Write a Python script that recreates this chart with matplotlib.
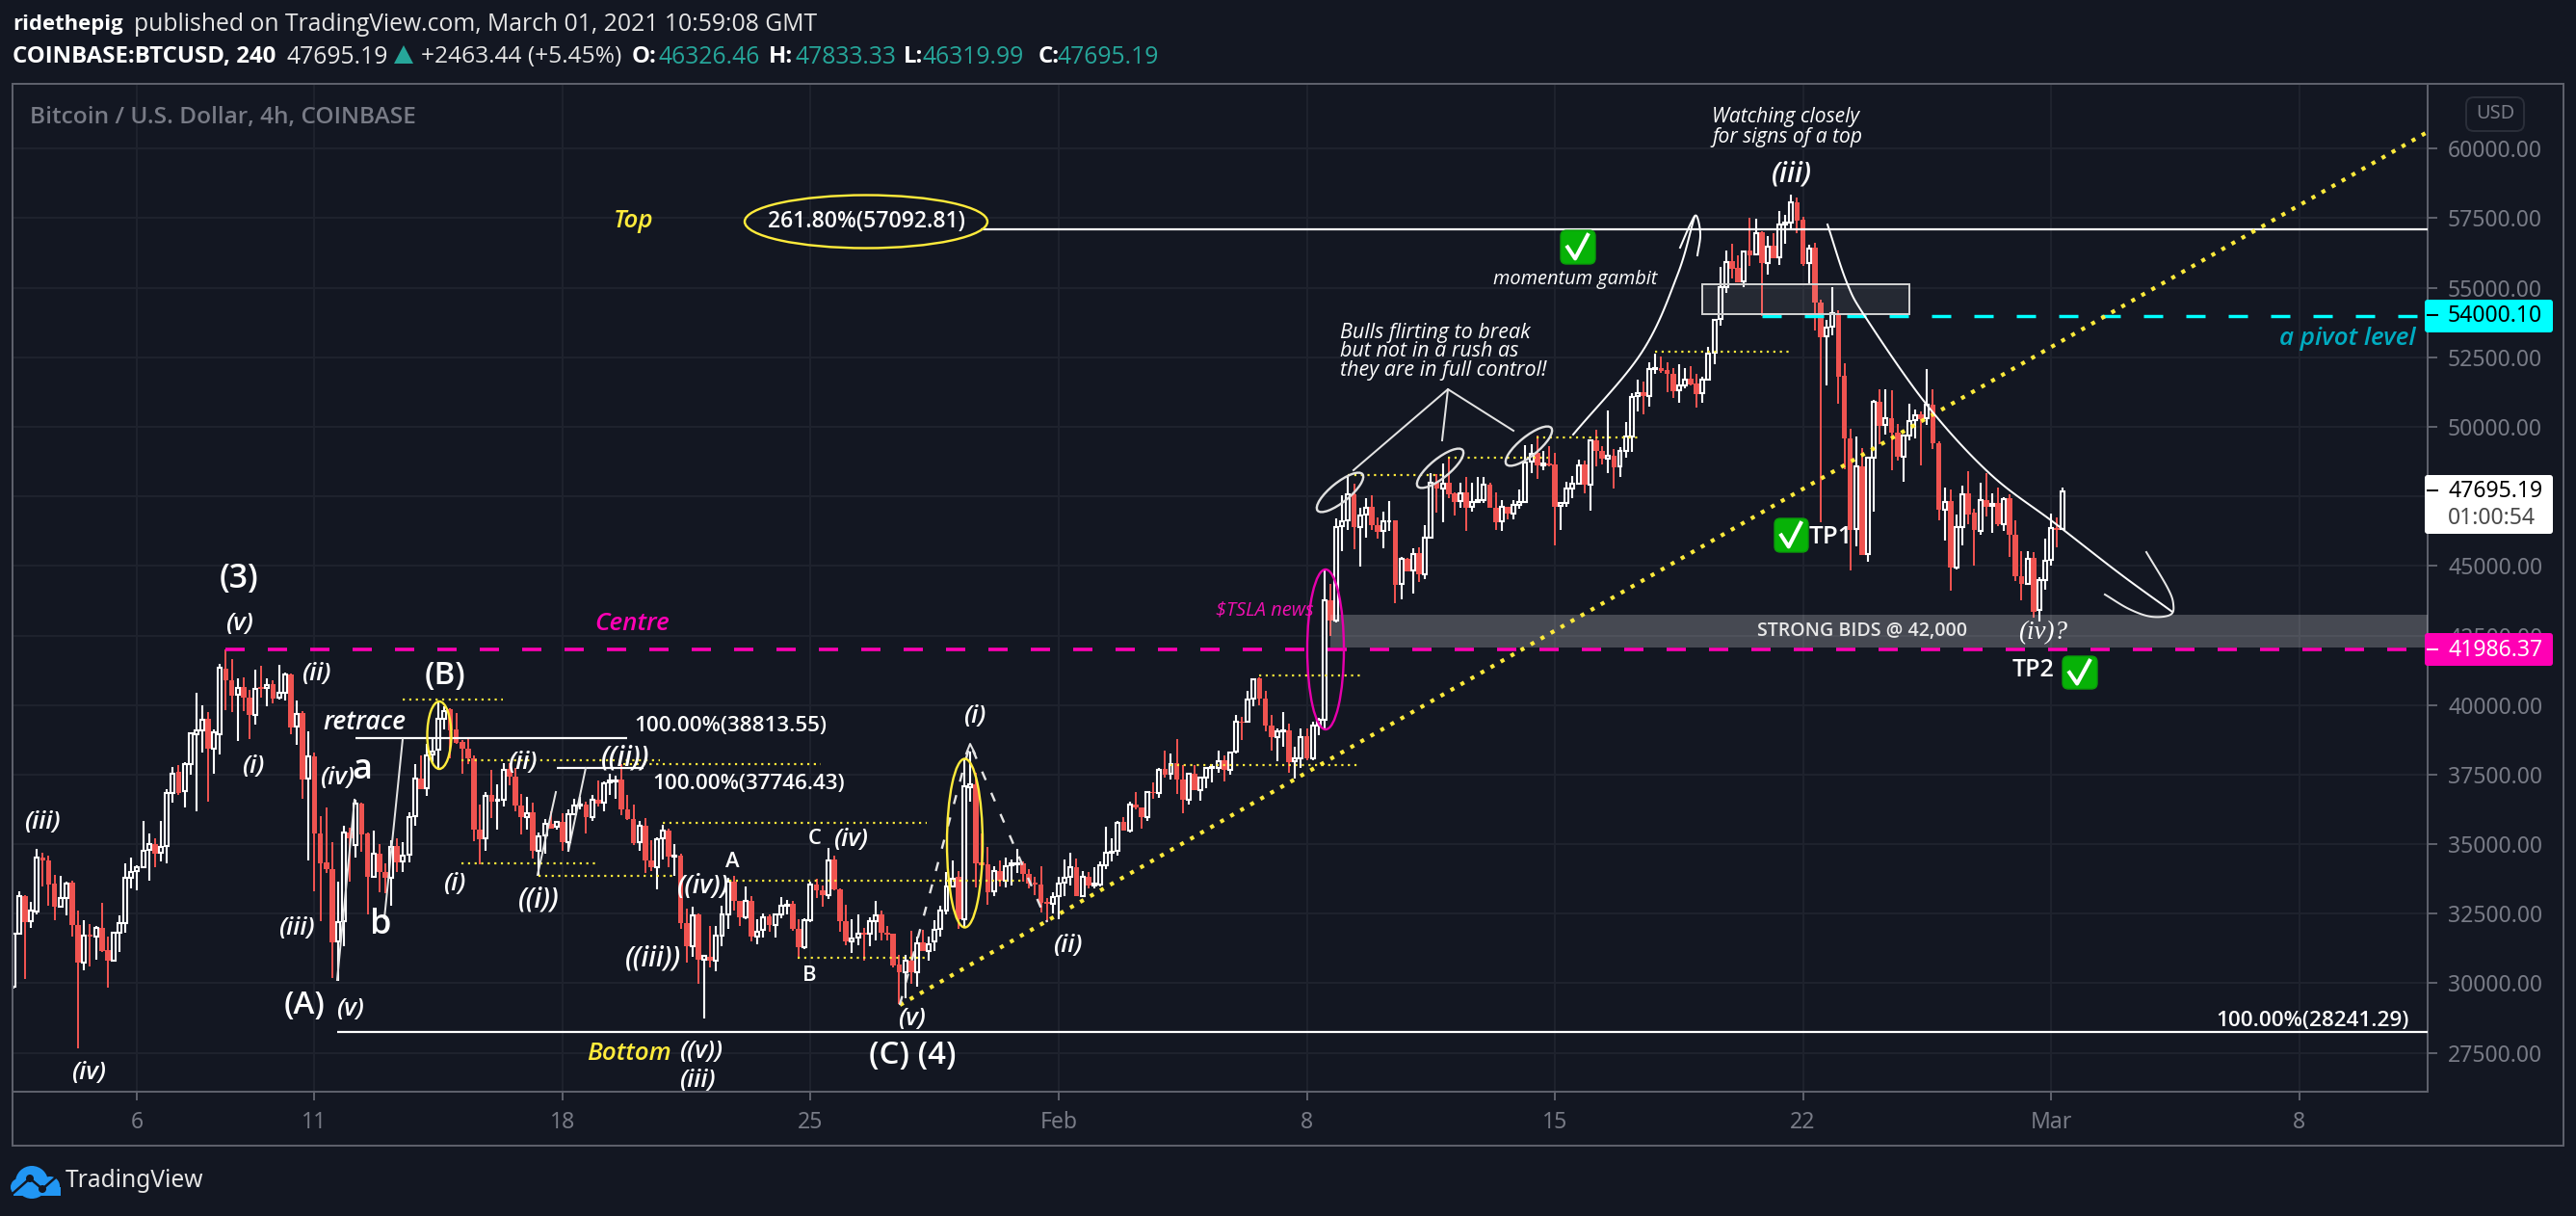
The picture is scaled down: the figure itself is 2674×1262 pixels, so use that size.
import numpy as np
import matplotlib
matplotlib.use("Agg")
import matplotlib.pyplot as plt
from matplotlib.patches import Ellipse, Rectangle, FancyBboxPatch, Circle
from matplotlib.lines import Line2D
from matplotlib.transforms import Affine2D

W, H = 2674, 1262
BG = "#131722"; GRID = "#1e222d"; FRAME = "#5d606b"; LBL = "#787b86"
UP = "#ffffff"; DOWN = "#ef5350"; YEL = "#ffeb3b"; MAG = "#ff00b4"; CYAN = "#00ffff"
px = 0.72

# ---- 4h BTCUSD candles, first bar on Jan 2 12:00, times as day-of-year offset
first_day = 1.5
bars_per_day = 6
opens = [
29876,31785,33115,32213,32560,34504,34423,33567,32745,33058,33601,32097,
30732,31750,31669,31993,31207,30801,31820,32167,33786,34041,34180,34781,
35001,34677,34943,36841,37593,36910,37859,38958,39086,39502,38414,38947,
41307,40902,40381,40636,40254,39652,40636,40613,40752,40254,40439,41099,
39224,39710,37350,38148,35395,34330,34099,31496,32213,35429,34967,36471,
35372,33810,34642,34006,33775,34943,34365,34620,36008,37373,37026,38206,
38380,39514,39849,39109,38669,38438,38067,35522,
35198,36760,36552,36587,37686,37431,36378,35985,36147,34770,35314,35742,
35638,35811,35083,36089,36378,36436,35973,36610,36506,37223,37258,37339,
36263,35916,35060,35661,34411,34180,35198,35488,34539,34597,32167,31322,
32479,30836,30952,30802,31704,32479,33636,32965,32364,32965,31669,31901,
32398,32098,32479,32769,32861,31959,31299,32248,33555,33347,33150,34446,
33382,32225,31496,31635,31820,31785,32225,32479,31808,31785,30663,30397,
30802,30397,31473,31172,31496,31959,32595,33486,33810,
32306,37050,37166,34331,34273,33290,34042,33672,34227,34262,34296,33926,
33602,33556,32908,32862,33116,33602,33834,34181,33139,33834,33521,33544,
34250,34690,34759,35800,35488,36437,36333,35986,36888,36853,37686,37513,
37895,37339,36587,37513,36958,37374,37721,37721,37999,37652,38323,39387,
39387,40232,40961,40220,39248,38855,39052,39075,37976,38091,38867,38091,
39272,39456,
43775,43046,46425,46633,47582,46402,46841,47119,46483,46263,46598,46633,
44342,45245,44840,45453,44701,46031,47998,47790,47987,47593,47327,47640,
47119,47292,47373,47929,47073,46598,47119,46899,47211,47304,48739,49063,
48600,48692,48635,47142,47269,47790,47964,48635,47906,49525,49121,48866,
48970,48565,49121,49641,51111,51238,51122,52094,52129,52048,51920,51319,
51492,51724,51550,51203,
51680,52663,53878,55012,55960,55706,55231,56342,56192,57002,55903,56504,
56088,57268,57360,58078,57441,55879,56435,54456,53241,53589,54098,51830,
49574,46311,48590,45432,48880,50904,50060,50326,49805,48937,49689,50233,
50442,50303,50812,49423,47028,47318,44934,46392,47595,46901,46253,47375,
47144,47271,46508,47433,46137,44633,44367,
45277,43426,44479,45219,46376,46326.46]
highs = [
31785,33289,33173,32907,34816,34700,34596,33879,33867,33636,33671,32595,
32248,32132,32051,32884,31669,31843,32421,34296,34504,34238,35834,35372,
35198,35834,36991,37778,37836,37952,39016,40428,39988,39733,39109,41469,
42001,41654,40960,40983,40543,41272,41411,40948,40890,41446,41157,41133,
40150,39768,39039,38287,36008,36332,35082,33636,35661,35603,36610,36505,
35429,35487,34990,34319,35140,35221,35059,36147,37859,38183,38611,38785,
40081,39942,39884,39710,38727,38785,38183,36413,
36876,37651,37165,37917,37917,37744,36818,36702,36494,35407,35892,36182,
35835,36101,36240,36645,36702,36529,36783,37304,37246,37535,37454,37859,
36783,36413,35835,35950,35140,35256,35684,35545,34990,34643,32676,32745,
32514,31033,32040,32040,32792,33787,33868,32965,33486,33116,32306,32514,
32479,32479,33081,33000,32942,32283,32329,33636,33752,33521,34874,34597,
33405,32827,32306,32479,31982,32364,32942,32595,32040,31785,31033,31033,
31878,31669,31935,31669,32271,32769,33984,34411,34018,
38034,38323,37548,35372,34886,34192,34424,34528,34447,34817,34389,34100,
33834,34215,33058,33278,33834,34447,34701,34470,34042,34007,34158,34389,
35639,35222,35835,35986,36530,36877,36333,36911,37224,37744,38346,38242,
38762,37825,37548,37825,37432,37767,37860,38346,38184,38323,39653,39572,
40498,40961,40984,40498,39653,39156,39734,39329,38496,39156,39167,39387,
39538,44840,
44342,46725,47535,48195,47964,47096,47443,47535,46749,46957,47327,46633,
45337,45303,45649,45684,46483,48345,48288,48681,48889,47651,47998,48195,
47987,48195,48195,47987,47640,47362,47119,47362,47732,49329,49375,49676,
49121,49317,49063,47292,48021,48230,48808,48773,49549,49896,49294,50601,
49202,49271,50162,51203,51701,51631,52325,52626,52534,52325,52129,52268,
52129,52187,51897,51816,
52871,53855,55741,56342,56574,56169,56342,57522,57476,57036,56863,56955,
57754,57615,58332,58251,57557,56550,56608,54572,53855,55012,54202,52270,
49921,49666,49227,48937,50962,51367,51367,51309,50118,49724,50846,50615,
50557,52061,51344,49493,47804,47757,46855,47873,48417,47063,47977,48324,
47607,47804,47456,47572,46623,45548,45524,
45486,44583,45983,46874,46758,47833.33]
lows = [
29818,31785,30142,31982,32479,33463,32768,32248,32710,32444,31669,27643,
30454,30593,30836,31114,29853,30801,31114,31808,33405,33324,34157,33671,
34157,34388,34296,36494,36760,36320,37512,36181,38299,36529,37535,38229,
39826,39745,38692,39768,38785,39305,40254,39965,40057,40196,40173,38958,
38553,36644,34411,33289,32225,33960,30200,30084,31345,33636,34504,34735,
32456,33786,33266,33231,32768,33983,33983,34330,35661,36991,36737,37859,
37686,39109,38067,38611,37535,37859,35105,34272,
34759,35927,35522,36355,37107,36182,35349,35511,34481,33868,34655,35545,
35522,34770,34735,36066,36240,35372,35835,36355,36182,36760,36621,36043,
35869,34967,34759,33960,34018,33370,34446,34157,33868,31959,30744,30940,
29969,28719,30570,30420,31322,31959,32595,32040,32283,31496,31403,31635,
31843,31635,32329,32479,31878,30917,31241,32190,33058,32745,33023,33324,
31866,31357,31091,31357,30802,31322,31554,31554,31554,30570,29240,29471,
29992,29876,31149,30825,31149,31669,32479,33463,31959,
32017,36530,33440,34250,32827,33116,33487,33440,33521,33961,33637,33406,
33174,32538,32191,32515,32306,33116,33521,33116,33093,33406,33406,33487,
34100,34389,34586,35488,35407,36240,35546,35835,36622,36668,37374,37339,
36819,36125,36414,36934,36564,37027,37224,37571,37258,37490,38242,38751,
39364,39943,40000,39052,38358,37976,38496,37571,37362,37744,37999,38010,
38901,39130,
42468,42954,45534,46286,45592,44990,46031,46286,45997,45650,46263,43660,
43798,44805,43995,44435,44527,45997,46922,46575,47420,46806,47096,46263,
46957,47269,47269,47073,46309,46263,46691,46668,47061,47292,48345,48114,
48426,48565,45742,46309,47119,47420,47906,47616,47003,48577,48635,48334,
47790,48195,48889,49097,50567,50451,50740,51920,51955,51261,51053,50856,
51377,51492,50683,50856,
51656,52258,53623,54815,55324,55185,55012,55787,56169,53970,55474,56053,
55822,56597,57094,56979,55787,55127,53450,46566,51483,53276,50846,48475,
44830,45698,45386,45143,46947,49379,49724,48440,48799,48012,49515,49574,
48613,50071,49192,46623,45929,44101,44865,45755,46508,45027,46103,46762,
46184,46427,46253,45328,44448,43754,44333,
43148,42998,44155,45023,45659,46319.99]
closes = [
31785,33115,32190,32595,34504,34411,33544,32745,33058,33578,32097,30732,
31727,31669,31993,31172,30801,31808,32167,33786,34006,34180,34758,35001,
34654,34886,36841,37547,36841,37859,38970,39074,39479,38414,39024,41330,
40902,40347,40613,40254,39652,40578,40590,40728,40231,40439,41099,39190,
39687,37338,38148,35372,34296,34099,31472,32190,35429,35198,36471,35348,
33810,34642,33983,33775,34909,34330,34596,35973,37362,36991,38183,38322,
39502,39768,39074,38646,38414,38067,35522,35175,
36737,36529,36587,37674,37431,36390,35973,36124,34759,35279,35742,35545,
35800,35060,36089,36378,36436,35973,36587,36471,37200,37281,37304,36263,
35916,35025,35661,34411,34180,35175,35488,34562,34585,32167,31322,32421,
30860,30998,30802,31704,32479,33659,32942,32364,32965,31669,31866,32364,
32098,32479,32769,32826,31936,31299,32248,33555,33347,33150,34423,33370,
32225,31496,31612,31785,31750,32225,32445,31808,31750,30651,30397,30802,
30397,31438,31149,31403,31935,32595,33463,33752,32283,
37085,37143,34308,34250,33267,34019,33672,34215,34296,34296,33926,33579,
33556,32885,32839,33093,33579,33787,34181,33139,33810,33498,33579,34239,
34678,34736,35777,35488,36437,36321,35974,36877,36842,37652,37490,37883,
37316,36587,37513,36934,37374,37721,37767,37976,37652,38300,39387,39364,
40197,40926,40220,39248,38843,39063,39075,37953,38091,38843,38068,39272,
39457,43776,
43046,46402,46598,47582,46402,46806,47096,46459,46216,46598,46621,44319,
45245,44805,45441,44701,46031,47998,47790,47940,47582,47304,47593,47096,
47292,47350,47906,47073,46575,47119,46887,47188,47292,48716,49028,48600,
48692,48600,47131,47269,47790,47964,48623,47906,49525,49121,48854,48970,
48542,49121,49641,51087,51203,51122,52094,52129,52013,51920,51296,51492,
51701,51539,51180,51701,
52640,53855,55012,55937,55683,55208,56319,56169,56979,55879,56481,56076,
57268,57349,58055,57418,55856,56423,54456,53218,53565,54098,51807,49574,
46276,48590,45386,48880,50904,50037,50326,49805,48914,49689,50210,50418,
50268,50812,49423,47005,47294,44934,46392,47572,46855,46276,47364,47109,
47237,46485,47410,46103,44622,44367,45258,
43345,44479,45196,46353,46307,47695.19]

# ---- price levels
top_level = 57092.81; pivot_level = 54000.10; centre_level = 41986.37
bottom_level = 28241.29; retrace_a = 38813.55; retrace_b = 37746.43
bids_top, bids_bottom = 43240, 42060
trend_x = [26.52, 69.62]; trend_y = [29217, 60600]
dot_start = [12.49,14.15,18.71,14.15,16.32,19.83,21.70,23.63,34.15,36.65,39.15,41.98,44.48,47.83]
dot_end   = [15.32,19.75,24.29,17.95,20.15,27.28,30.05,27.30,39.51,39.59,41.98,44.81,47.34,51.63]
dot_price = [40197,38015,37885,34309,33855,35770,33685,30920,37845,41070,48280,48880,49620,52700]
ytick_values = [27500 + 2500*i for i in range(14)]
xtick_days = [5,10,17,24,31,38,45,52,59,66]
xtick_labels = ["6","11","18","25","Feb","8","15","22","Mar","8"]

fig = plt.figure(figsize=(W/100, H/100), dpi=100, facecolor=BG)
ax = fig.add_axes([13/W, 1-1133/H, (2520-13)/W, (1133-87)/H], facecolor=BG)
ax.set_xlim(1.481, 69.625); ax.set_ylim(26099, 62331)
o, h, l, c = map(np.array, (opens, highs, lows, closes))
x = first_day + np.arange(len(o))/bars_per_day
up = c >= o
ax.set_axisbelow(True)
ax.grid(True, color=GRID, lw=2*px)
ax.vlines(x[~up], l[~up], h[~up], color=DOWN, lw=2*px, zorder=2)
ax.vlines(x[up], l[up], h[up], color=UP, lw=2.1*px, zorder=2)
ax.bar(x[~up], (o-c)[~up], bottom=c[~up], width=0.155, color=DOWN, lw=0, zorder=3)
ax.bar(x[up], (c-o)[up], bottom=o[up], width=0.108, facecolor=BG, edgecolor=UP, lw=2.1*px, zorder=3)

ax.yaxis.tick_right()
ax.set_yticks(ytick_values); ax.set_yticklabels([f"{v:.2f}" for v in ytick_values])
ax.set_xticks(xtick_days); ax.set_xticklabels(xtick_labels)
ax.tick_params(axis="y", colors=FRAME, length=10*px, width=2*px, pad=11*px, labelcolor=LBL, labelsize=23*px)
ax.tick_params(axis="x", colors=FRAME, length=9*px, width=2*px, pad=11*px, labelcolor=LBL, labelsize=23*px)
for s in ax.spines.values():
    s.set_color(FRAME); s.set_linewidth(2*px)
for t in ax.get_xticklabels() + ax.get_yticklabels():
    t.set_family("Noto Sans")

# levels, in price
ax.hlines(top_level, 28.8, 69.625, color="white", lw=2.2*px, zorder=5)
ax.hlines(bottom_level, 10.64, 69.625, color="white", lw=2.2*px, zorder=5)
ax.hlines(retrace_a, 11.16, 18.82, color="white", lw=2.2*px, zorder=5)
ax.hlines(retrace_b, 16.84, 19.28, color="white", lw=2.2*px, zorder=5)
ax.plot([50.84, 69.4], [pivot_level]*2, color=CYAN, lw=3.4*px, ls=(0, (20/3.4, 24/3.4)), zorder=4, dash_capstyle="butt")
ax.plot([7.49, 69.625], [centre_level]*2, color=MAG, lw=3.6*px, ls=(0, (20/3.6, 24/3.6)), zorder=5, dash_capstyle="butt")
ax.add_patch(Rectangle((38.67, bids_bottom), 69.625-38.67, bids_top-bids_bottom, fc="white", alpha=0.22, lw=0, zorder=6))
for a, b, p in zip(dot_start, dot_end, dot_price):
    ax.plot([a, b], [p, p], color=YEL, lw=2.2*px, ls=(0, (1, 2.1)), zorder=5, dash_capstyle="butt")
ax.plot(trend_x, trend_y, color=YEL, lw=4.2*px, ls=(0, (1, 1.85)), zorder=7, dash_capstyle="butt")

# ---- pixel-space overlay
pix = Affine2D().scale(1, -1).translate(0, H)
ITAL = {"family": ["Open Sans", "DejaVu Sans"], "style": "italic"}
SANS = {"family": ["Open Sans", "DejaVu Sans"]}

def T(xp, yp, s, size=20, color="white", ha="center", va="center", z=20, **kw):
    base = dict(SANS); base.update(kw)
    return fig.text(xp, yp + 2, s, transform=pix, fontsize=size*px, color=color, ha=ha, va=va, zorder=z, **base)

def IT(xp, yp, s, size=20, color="white", ha="center", **kw):
    return T(xp, yp, s, size, color, ha=ha, **{**ITAL, **kw})

def poly(pts, color="white", lw=2, z=15, smooth=False, ls="-"):
    pts = np.array(pts, float)
    if smooth:
        P = np.vstack([2*pts[0]-pts[1], pts, 2*pts[-1]-pts[-2]])
        out = []
        for i in range(1, len(P)-2):
            for t in np.linspace(0, 1, 16):
                out.append(0.5*((2*P[i]) + (-P[i-1]+P[i+1])*t + (2*P[i-1]-5*P[i]+4*P[i+1]-P[i+2])*t**2 + (-P[i-1]+3*P[i]-3*P[i+1]+P[i+2])*t**3))
        pts = np.array(out)
    ln = Line2D(pts[:, 0], pts[:, 1], transform=pix, color=color, lw=lw*px, zorder=z, ls=ls)
    fig.add_artist(ln)

def ell(cx, cy, w, h, color, angle=0, lw=2.4):
    e = Ellipse((cx, cy), w, h, angle=angle, fc="none", ec=color, lw=lw*px, transform=pix, zorder=16)
    fig.add_artist(e)

def check(x0, y0, x1, y1):
    b = FancyBboxPatch((x0+4, y0+4), x1-x0-8, y1-y0-8, boxstyle="round,pad=4,rounding_size=6", fc="#07b207", ec="#0a9a0a", lw=1, transform=pix, zorder=17)
    fig.add_artist(b)
    w, hh = x1-x0, y1-y0
    poly([(x0+.2*w, y0+.5*hh), (x0+.42*w, y0+.84*hh), (x0+.78*w, y0+.14*hh)], lw=4, z=18)

def tag(y0, y1, color):
    b = FancyBboxPatch((2520, y0+3), 127, y1-y0-6, boxstyle="round,pad=3,rounding_size=3", fc=color, ec=color, lw=0, transform=pix, zorder=8)
    fig.add_artist(b)

fig.add_artist(Rectangle((13, 87), 2648, 1102, fc="none", ec=FRAME, lw=2*px, transform=pix, zorder=1))

# header
T(13, 24, "ridethepig", 22, ha="left", fontweight="bold")
T(139, 24, "published on TradingView.com, March 01, 2021 10:59:08 GMT", 24.7, ha="left", color="#e6e6e6")
T(13, 57, "COINBASE:BTCUSD, 240", 24, ha="left", fontweight="bold")
T(298, 57, "47695.19", 24.7, ha="left", color="#e6e6e6")
fig.add_artist(plt.Polygon([(409, 66), (429, 66), (419, 47)], transform=pix, fc="#26a69a", lw=0, zorder=20))
T(437, 57, "+2463.44 (+5.45%)", 24.5, ha="left", color="#e6e6e6")
for xa, xb, lab, val in [(656, 683, "O:", "46326.46"), (798, 825, "H:", "47833.33"), (938, 958, "L:", "46319.99"), (1078, 1098, "C:", "47695.19")]:
    T(xa, 57, lab, 24, ha="left", fontweight="bold")
    T(xb, 57, val, 24.7, ha="left", color="#26a69a")
T(31, 120, "Bitcoin / U.S. Dollar, 4h, COINBASE", 24.4, ha="left", color=LBL, fontweight="semibold")

# USD button and tags
fig.add_artist(FancyBboxPatch((2564, 105), 52, 27, boxstyle="round,pad=4,rounding_size=8", fc=BG, ec="#2a2e39", lw=2*px, transform=pix, zorder=8))
T(2590, 116, "USD", 20, color=LBL, family="Noto Sans", z=9)
tag(311, 345, CYAN); tag(493, 554, "white"); tag(657, 691, MAG)
T(2541, 326, "54000.10", 23, color="black", ha="left", family="Noto Sans")
T(2541, 508, "47695.19", 23, color="black", ha="left", family="Noto Sans")
T(2541, 536, "01:00:54", 23, color="#4a4a4a", ha="left", family="Noto Sans")
T(2541, 673, "41986.37", 23, ha="left", family="Noto Sans")
for yy, cc in [(327, "black"), (509, "black"), (674, "white")]:
    poly([(2520, yy), (2530, yy)], color=cc, lw=2, z=9)

# logo
for (cx, cy, r) in [(33, 1227, 17), (20, 1232, 9), (52, 1231, 10)]:
    fig.add_artist(Circle((cx, cy), r, fc="#2196f3", lw=0, transform=pix, zorder=9))
fig.add_artist(Rectangle((14, 1232), 49, 9, fc="#2196f3", lw=0, transform=pix, zorder=9))
poly([(14, 1238), (31, 1223), (44, 1234), (60, 1220)], color=BG, lw=2.5, z=10)
for cx, cy in [(31, 1223), (44, 1234)]:
    fig.add_artist(Circle((cx, cy), 4, fc=BG, lw=0, transform=pix, zorder=10))
T(68, 1224, "TradingView", 24.5, ha="left", color="#e6e6e6", family="Noto Sans")

# level labels
ell(899, 230, 252, 55, YEL)
T(899, 228, "261.80%(57092.81)", 23, fontweight="semibold")
IT(658, 228, "Top", 26, YEL, fontweight="semibold")
IT(653, 1091, "Bottom", 26, YEL, fontweight="semibold")
IT(656, 646, "Centre", 26, MAG, fontweight="semibold")
IT(2508, 350, "a pivot level", 26, "#00acc1", ha="right", fontweight="semibold")
IT(1313, 632, "$TSLA news", 20, "#f010b0")
T(658, 752, "100.00%(38813.55)", 22.5, ha="left", fontweight="semibold")
T(677, 811, "100.00%(37746.43)", 22.5, ha="left", fontweight="semibold")
T(2501, 1057, "100.00%(28241.29)", 22.5, ha="right", fontweight="semibold")
T(1933, 653, "STRONG BIDS @ 42,000", 19.6, color="#e8e8e8", fontweight="semibold")
IT(2121, 655, "(iv)?", 27, family=["Liberation Serif", "DejaVu Serif"])

# wave counts
for xp, yp, s, sz in [(248, 599, "(3)", 34), (462, 699, "(B)", 33), (316, 1042, "(A)", 33), (947, 1093, "(C) (4)", 33),
                      (376, 797, "a", 36), (395, 958, "b", 36), (760, 893, "A", 22), (840, 1011, "B", 22), (846, 869, "C", 22),
                      (1900, 556, "TP1", 26), (2111, 694, "TP2", 25)]:
    T(xp, yp, s, sz, fontweight="semibold")
for xp, yp, s, sz in [(248, 645, "(v)", 26), (328, 698, "(ii)", 26), (263, 793, "(i)", 26), (44, 851, "(iii)", 26), (350, 806, "(iv)", 26),
                      (308, 962, "(iii)", 26), (363, 1046, "(v)", 26), (92, 1111, "(iv)", 26), (472, 916, "(i)", 26), (542, 789, "(ii)", 26),
                      (559, 932, "((i))", 28), (649, 785, "((ii))", 28), (730, 918, "((iv))", 27), (678, 993, "((iii))", 28), (883, 870, "(iv)", 26),
                      (1012, 741, "(i)", 26), (1108, 979, "(ii)", 26), (946, 1056, "(v)", 26), (728, 1089, "((v))", 26), (724, 1119, "(iii)", 26),
                      (1860, 179, "(iii)", 29)]:
    IT(xp, yp, s, sz, fontweight="semibold")
IT(378, 748, "retrace", 26.5, fontweight="semibold")
T(1391, 363, "Bulls flirting to break\nbut not in a rush as\nthey are in full control!", 21.5, ha="left", linespacing=0.93, **ITAL)
T(1777, 130, "Watching closely\nfor signs of a top", 21, ha="left", linespacing=0.95, **ITAL)
IT(1635, 288, "momentum gambit", 20)

check(1620, 239, 1656, 274); check(1842, 538, 1877, 573); check(2141, 681, 2177, 715)

# ellipses
ell(456, 763, 25, 70, YEL); ell(1001.5, 875, 37, 175, YEL); ell(1376, 674, 38, 166, "#e600ac")
ell(1391, 511, 60, 20, "#e0e0e0", angle=-39); ell(1495, 486, 60, 20, "#e0e0e0", angle=-39); ell(1587, 463, 60, 20, "#e0e0e0", angle=-39)

# hand-drawn lines
LINE = "#e4e4e4"
poly([(1405, 488), (1503, 404), (1571, 447)], LINE); poly([(1503, 404), (1497, 457)], LINE)
poly([(350, 1017), (368, 830)], LINE); poly([(399, 953), (418, 767)], LINE)
poly([(558, 908), (577, 822)], LINE); poly([(590, 883), (608, 797)], LINE)
poly([(934, 1043), (1007, 772), (1087, 957)], LINE, lw=2.4, ls=(0, (4, 6)))
poly([(1003, 782), (1007, 772), (1012, 782)], LINE)
poly([(1633, 451), (1704, 366), (1741, 286), (1759, 225)], "white", smooth=True)
poly([(1744, 257), (1755, 232), (1761, 224), (1765, 243), (1762, 265)], "white", smooth=True)
poly([(1897, 233), (1917, 293), (1937, 330), (2000, 420), (2066, 492), (2133, 543), (2200, 595), (2255, 635)], "white", smooth=True)
poly([(2228, 573), (2250, 610), (2256, 627), (2253, 638), (2233, 640), (2210, 632), (2185, 617)], "#e8e8e8", smooth=True)
fig.add_artist(Rectangle((1767, 295), 215, 31, fc=(1, 1, 1, 0.08), ec="#cfcfcf", lw=2*px, transform=pix, zorder=14))

fig.savefig("out.png", dpi=100, facecolor=BG)
